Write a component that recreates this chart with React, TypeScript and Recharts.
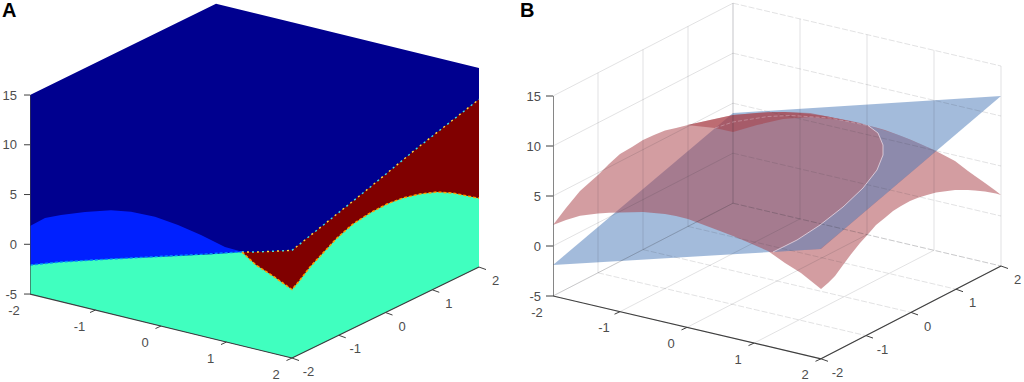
import { Area, ComposedChart, LabelList, Line, XAxis, YAxis } from "recharts";

// both panels are oblique 3D views, flattened to u (across) and v (height in z units)
const axisTicks = [-2, -1, 0, 1, 2];
const zTicks = [-5, 0, 5, 10, 15];
const axisLabels = ["-2", "-1", "0", "1", "2"];

// panel A, flat coloured regions
const navyU = [30, 216, 292, 479];
const navyHi = [15, 24.18, 22.31, 17.71];
const navyLo = [-5, -9.56, -11.43, -2.29];

const maroonU = [242, 256, 292, 366, 416, 479];
const maroonHi = [-0.78, -0.78, -0.61, 5.4, 9.57, 14.57];
const maroonLo = [-0.78, -2.3, -4.6, -4.6, -4, 0];

const royalU = [30, 45, 61, 85, 111, 131, 155, 178, 201, 225, 243];
const royalHi = [1.83, 2.64, 2.94, 3.24, 3.41, 3.27, 2.77, 1.93, 0.93, -0.28, -0.78];
const royalLo = [-2.09, -1.93, -1.78, -1.63, -1.48, -1.38, -1.25, -1.13, -1.01, -0.86, -0.78];

const mintU = [30, 61, 111, 161, 211, 242, 256, 273, 292, 300, 310, 323, 337, 353, 370, 387, 403, 420, 437, 453, 470, 479];
const mintHi = [-2.09, -1.78, -1.48, -1.25, -1.01, -0.78, -2.09, -3.19, -4.55, -3.59, -2.29, -0.88, 0.63, 2.04, 3.14, 4.05, 4.65, 5.05, 5.25, 5.15, 4.8, 4.62];
const mintLo = [-5, -5.76, -6.99, -8.22, -9.44, -10.2, -10.55, -10.97, -11.43, -11.04, -10.55, -9.91, -9.23, -8.45, -7.61, -6.79, -6.0, -5.17, -4.34, -3.56, -2.73, -2.29];

// panel B, translucent surfaces
const planeU = [553, 733, 821, 1001];
const planeHi = [-1.9, 13.3, 13.86, 15.0];
const planeLo = [-1.9, -0.83, -0.3, 15.0];

const domeU = [553, 566, 580, 598, 609, 620, 632, 643, 654, 665, 676, 688, 712, 733, 745, 768, 785, 801, 821, 828, 835, 843, 851, 860, 868, 876, 885, 893, 901, 910, 918, 927, 936, 955, 968, 975, 985, 996, 1001];
const domeHi = [2.1, 3.8, 5.5, 7.1, 8.2, 9.2, 9.9, 10.6, 11.1, 11.55, 11.8, 12.1, 12.65, 13.1, 13.2, 13.4, 13.4, 13.3, 13.05, 12.95, 12.8, 12.65, 12.5, 12.3, 12.05, 11.85, 11.6, 11.3, 11.0, 10.65, 10.3, 9.9, 9.5, 8.5, 7.5, 7.0, 6.3, 5.5, 5.1];
const domeLo = [2.1, 2.6, 3.02, 3.25, 3.32, 3.35, 3.38, 3.4, 3.3, 3.2, 3.0, 2.7, 1.8, 1.0, 0.5, -0.5, -1.7, -2.7, -4.3, -3.7, -3.0, -1.9, -0.83, 0.3, 1.17, 2.1, 2.83, 3.5, 4.0, 4.5, 4.83, 5.1, 5.35, 5.6, 5.6, 5.55, 5.45, 5.25, 5.1];

const foldU = [687, 715, 733, 757, 783, 810, 840, 868];
const foldHi = [12.1, 12.7, 13.1, 13.3, 13.4, 13.3, 12.7, 12.05];
const foldLo = [12.1, 11.8, 11.4, 12.1, 12.7, 12.9, 12.6, 12.05];

const bandU = [773, 797, 820, 843, 863, 877, 883, 883, 900, 918, 936];
const bandHi = [-0.6, 0.6, 2.1, 3.9, 5.8, 7.6, 9.1, 11.6, 11.05, 10.3, 9.5];
const bandLo = [-0.6, -0.45, -0.3, 1.6, 3.3, 4.5, 4.97, 4.97, 6.45, 7.94, 9.5];

const sliverU = [868, 878, 883];
const sliverHi = [12.05, 11.75, 11.6];
const sliverLo = [12.05, 11.3, 10.1];

const seamBackU = [715, 733, 768, 791, 830, 868];
const seamBackV = [11.8, 12.4, 12.95, 13.05, 12.8, 12.05];
const seamFrontU = [868, 878, 883, 883, 877, 863, 843, 820, 797, 773];
const seamFrontV = [12.05, 11.3, 10.1, 9.1, 7.6, 5.8, 3.9, 2.1, 0.6, -0.6];

const font = "'Liberation Sans', Arial, sans-serif";
const inkColor = "#3f3f3f";
const labelColor = "#4d4d4d";
const gridColor = "rgba(50,50,60,0.14)";

type Projection = { left: number; stepX: number; stepY: number; riseX: number; riseY: number; pxPerZ: number };

const viewA: Projection = { left: 30, stepX: 65.5, stepY: 46.75, riseX: -1.608, riseY: 2.286, pxPerZ: 9.95 };
const viewB: Projection = { left: 553, stepX: 67, stepY: 45, riseX: -1.57, riseY: 2.32, pxPerZ: 10 };

const project = (p: Projection, x: number, y: number, z: number) => ({
  u: p.left + p.stepX * (x + 2) + p.stepY * (y + 2),
  v: z + p.riseX * (x + 2) + p.riseY * (y + 2),
});

const band = (u: number[], hi: number[], lo: number[]) =>
  u.map((value, i) => ({ u: value, range: [lo[i], hi[i]] }));
const path = (u: number[], v: number[]) => u.map((value, i) => ({ u: value, v: v[i] }));

const region = (key: string, rows: any[], fill: string, fillOpacity = 1) => (
  <Area
    key={key}
    data={rows}
    dataKey="range"
    type="linear"
    stroke="none"
    fill={fill}
    fillOpacity={fillOpacity}
    dot={false}
    activeDot={false}
    isAnimationActive={false}
  />
);

const stroke = (key: string, rows: any[], color: string, width = 1, dash?: string) => (
  <Line
    key={key}
    data={rows}
    dataKey="v"
    type="linear"
    stroke={color}
    strokeWidth={width}
    strokeDasharray={dash}
    dot={false}
    activeDot={false}
    isAnimationActive={false}
  />
);

// box edges, tick marks and numbers of the two floor axes
const floorAxes = (name: string, p: Projection) => {
  const xLine = [project(p, -2, -2, -5), project(p, 2, -2, -5)];
  const yLine = [project(p, 2, -2, -5), project(p, 2, 2, -5)];
  const zLine = [project(p, -2, -2, -5), project(p, -2, -2, 15)];
  const xMarks = axisTicks.map((t) => {
    const a = project(p, t, -2, -5);
    return [a, { u: a.u - 5.5, v: a.v - 2.5 / p.pxPerZ }];
  });
  const yMarks = axisTicks.map((t) => {
    const a = project(p, 2, t, -5);
    return [a, { u: a.u + 7, v: a.v - 2.5 / p.pxPerZ }];
  });
  const xText = axisTicks.map((t, i) => {
    const a = project(p, t, -2, -5);
    return { u: a.u - 16, v: a.v - 16 / p.pxPerZ, label: axisLabels[i] };
  });
  const yText = axisTicks.map((t, i) => {
    const a = project(p, 2, t, -5);
    return { u: a.u + 16.5, v: a.v - 13.5 / p.pxPerZ, label: axisLabels[i] };
  });
  return [
    stroke(name + "-z", zLine, inkColor, 1.2),
    stroke(name + "-x", xLine, inkColor, 1.2),
    stroke(name + "-y", yLine, inkColor, 1.2),
    ...xMarks.map((m, i) => stroke(name + "-xm" + i, m, inkColor)),
    ...yMarks.map((m, i) => stroke(name + "-ym" + i, m, inkColor)),
    ...[xText, yText].map((rows, i) => (
      <Line
        key={name + "-text" + i}
        data={rows}
        dataKey="v"
        stroke="none"
        dot={false}
        activeDot={false}
        isAnimationActive={false}
      >
        <LabelList dataKey="label" position="center" fill={labelColor} fontSize={13} fontFamily={font} />
      </Line>
    )),
  ];
};

// back walls and floor of the open box in panel B
const boxGrid = (p: Projection) => {
  const lines: any[] = [];
  axisTicks.forEach((t) => {
    lines.push(stroke("wl" + t, [project(p, -2, t, -5), project(p, -2, t, 15)], gridColor));
    lines.push(stroke("wr" + t, [project(p, t, 2, -5), project(p, t, 2, 15)], gridColor));
    lines.push(stroke("fx" + t, [project(p, t, -2, -5), project(p, t, 2, -5)], gridColor));
    lines.push(stroke("fy" + t, [project(p, -2, t, -5), project(p, 2, t, -5)], gridColor, 1, "6 2"));
  });
  zTicks.forEach((z) => {
    lines.push(stroke("hl" + z, [project(p, -2, -2, z), project(p, -2, 2, z)], gridColor));
    lines.push(stroke("hr" + z, [project(p, -2, 2, z), project(p, 2, 2, z)], gridColor, 1, "6 2"));
  });
  return lines;
};

const Panel = ({ left, axisWidth, tickSize, tickMargin, zDomain, children }: any) => (
  <div style={{ position: "absolute", left, top: 0 }}>
    <ComposedChart width={512} height={382} margin={{ top: 0, right: 0, bottom: 0, left: 0 }}>
      <XAxis
        dataKey="u"
        type="number"
        hide
        domain={[left + axisWidth, left + 512]}
        allowDataOverflow
      />
      <YAxis
        type="number"
        width={axisWidth}
        domain={zDomain}
        allowDataOverflow
        ticks={zTicks}
        interval={0}
        axisLine={false}
        tickSize={tickSize}
        tickMargin={tickMargin}
        tickLine={{ stroke: inkColor }}
        tick={{ fill: labelColor, fontSize: 13, fontFamily: font }}
      />
      {children}
    </ComposedChart>
  </div>
);

const letterStyle = (left: number) => ({
  position: "absolute" as const,
  left,
  top: -1,
  fontFamily: font,
  fontWeight: 700,
  fontSize: 20,
  lineHeight: "23px",
  color: "#000",
});

export default function App() {
  return (
    <div style={{ position: "absolute", left: 0, top: 0, width: 1024, height: 382, overflow: "hidden", background: "#fff" }}>
      <Panel left={0} axisWidth={30} tickSize={6} tickMargin={7} zDomain={[-13.84, 24.55]}>
        {region("navy", band(navyU, navyHi, navyLo), "#00008f")}
        {region("maroon", band(maroonU, maroonHi, maroonLo), "#800000")}
        {region("royal", band(royalU, royalHi, royalLo), "#0020ff")}
        {region("mint", band(mintU, mintHi, mintLo), "#40ffbf")}
        {stroke("royal-edge", path(royalU, royalLo), "#0090ff", 1.4, "3 2")}
        {stroke("upper-cyan", path(maroonU, maroonHi), "#40e0e0", 1.4, "2 8")}
        {stroke("upper-yellow", path(maroonU, maroonHi), "#ffd840", 1.4, "0 5 2 3")}
        {stroke("lower-edge", path(mintU.slice(5), mintHi.slice(5)), "#ffa000", 1.5, "3 2")}
        {floorAxes("a", viewA)}
      </Panel>

      <Panel left={512} axisWidth={41} tickSize={7} tickMargin={5} zDomain={[-13.6, 24.6]}>
        {boxGrid(viewB)}
        {region("plane", band(planeU, planeHi, planeLo), "#4777b7", 0.5)}
        {region("dome", band(domeU, domeHi, domeLo), "#a73b43", 0.5)}
        {region("fold", band(foldU, foldHi, foldLo), "#a73b43", 0.5)}
        {region("band", band(bandU, bandHi, bandLo), "#7599c9", 0.5)}
        {region("sliver", band(sliverU, sliverHi, sliverLo), "#7599c9", 0.5)}
        {stroke("seam-back", path(seamBackU, seamBackV), "rgba(235,215,225,0.35)", 1, "4 2")}
        {stroke("seam-front", path(seamFrontU, seamFrontV), "rgba(238,222,232,0.75)", 1)}
        {floorAxes("b", viewB)}
      </Panel>

      <div style={letterStyle(2)}>A</div>
      <div style={letterStyle(520)}>B</div>
    </div>
  );
}
